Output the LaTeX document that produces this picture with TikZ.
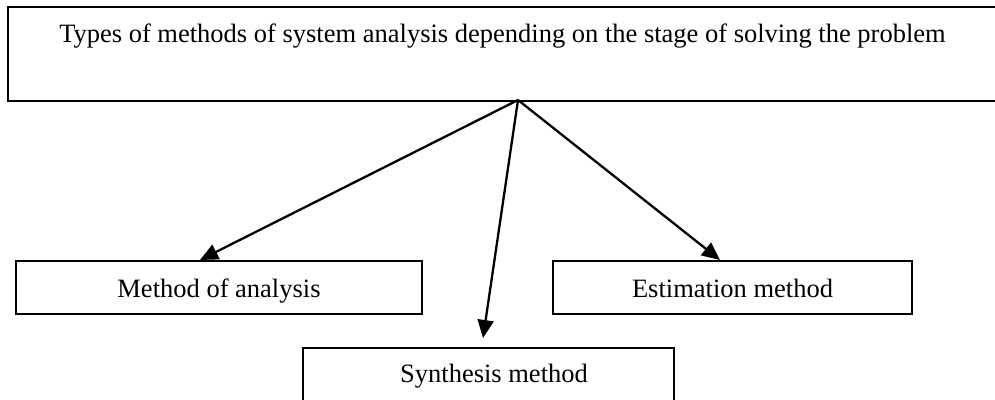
\documentclass[tikz,border=0pt]{standalone}
\usepackage{fontspec}
\setmainfont{Liberation Serif}
\usetikzlibrary{arrows.meta}
\begin{document}
\begin{tikzpicture}[x=1pt,y=-1pt,
  box/.style={draw, line width=2pt, rectangle, inner sep=0pt, text height=25pt, text depth=6pt, font=\fontsize{26.5}{31}\selectfont},
  arr/.style={line width=2.3pt, -{Triangle[length=18pt,width=16pt]}},
  txt/.style={font=\fontsize{26.5}{31}\selectfont, inner sep=0pt}]
\useasboundingbox (0,0) rectangle (995,399);
\clip (0,0) rectangle (995,399);
\fill[white] (0,0) rectangle (995,399);
\node[box, minimum width=1000pt, minimum height=94pt, anchor=north west, text height=0pt, text depth=0pt] (top) at (7,6) {};
\node[txt, anchor=base] (toptext) at (502.5,42) {Types of methods of system analysis depending on the stage of solving the problem};
\coordinate (src) at (518,100);
\node[box, minimum width=406pt, minimum height=53pt] (analysis) at (219,287.5) {Method of analysis};
\node[box, minimum width=359pt, minimum height=53pt] (estim) at (732.5,287.5) {Estimation method};
\node[box, minimum width=371pt, minimum height=56pt, anchor=north, text height=0pt, text depth=0pt] (synth) at (488.5,347) {};
\node[txt, anchor=base] (synthtext) at (494,382) {Synthesis method};
\draw[arr] (src) -- ([xshift=-19pt]analysis.north);
\draw[arr] (src) -- ([xshift=-5.5pt,yshift=9pt]synth.north);
\draw[arr] (src) -- ([xshift=-12.5pt]estim.north);
\end{tikzpicture}
\end{document}
